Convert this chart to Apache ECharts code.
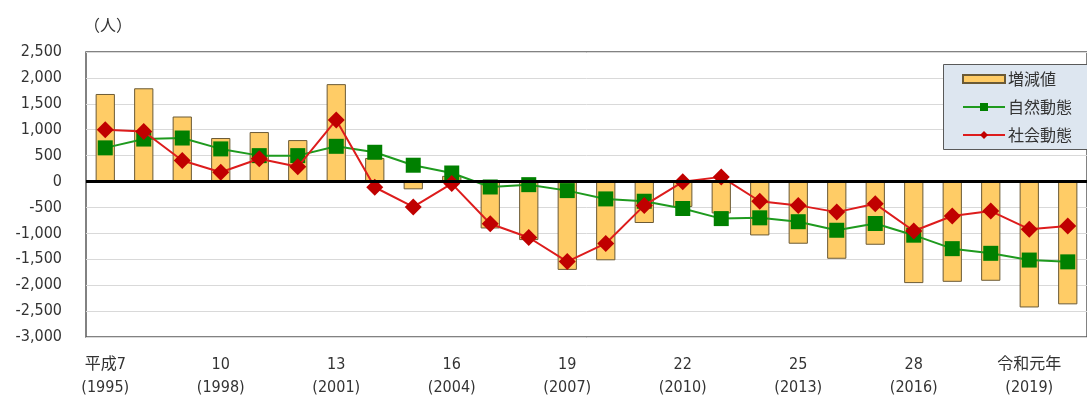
<!DOCTYPE html>
<html><head><meta charset="utf-8">
<script src="https://cdn.jsdelivr.net/npm/echarts@6/dist/echarts.min.js"></script>
<style>html,body{margin:0;padding:0;background:#fff}#c{width:1087px;height:399px}</style>
</head><body><div id="c"></div>
<script>
const eraLabels = ['平成7','8','9','10','11','12','13','14','15','16','17','18','19','20','21','22','23','24','25','26','27','28','29','30','令和元年','2'];
const yearLabels = ['1995','1996','1997','1998','1999','2000','2001','2002','2003','2004','2005','2006','2007','2008','2009','2010','2011','2012','2013','2014','2015','2016','2017','2018','2019','2020'];
const change = [1690,1800,1255,840,955,800,1880,455,-150,110,-905,-1130,-1705,-1520,-800,-490,-615,-1040,-1200,-1490,-1220,-1960,-1935,-1915,-2430,-2370];
const natural = [650,820,840,630,500,500,680,565,315,165,-105,-60,-175,-335,-380,-520,-715,-700,-775,-940,-810,-1035,-1295,-1385,-1515,-1550];
const social = [1000,965,405,180,440,285,1190,-110,-490,-40,-815,-1080,-1545,-1195,-460,-5,90,-380,-460,-590,-430,-955,-665,-570,-920,-860];
const yTicks = {min:-3000, max:2500, interval:500};

const categories = eraLabels.map((e,i)=> e + '\n(' + yearLabels[i] + ')');
const FONT = '"DejaVu Sans Condensed","DejaVu Sans","Noto Sans CJK JP",sans-serif';
const chart = echarts.init(document.getElementById('c'));
chart.setOption({
  animation:false,
  backgroundColor:'#fff',
  title:{text:'（人）', left:79, top:12, textStyle:{fontSize:16, fontWeight:'normal', color:'#333', fontFamily:'"Noto Sans CJK JP",sans-serif'}},
  grid:{left:86, right:-2, top:52, bottom:62, show:true, borderColor:'#595959', borderWidth:1.5, backgroundColor:'transparent'},
  graphic:[{type:'rect', left:943, top:64, z:10, shape:{width:160, height:85},
    style:{fill:'#dde6f0', stroke:'#595959', lineWidth:1}}],
  legend:{
    orient:'vertical', left:943, top:64, z:20,
    itemWidth:42, itemHeight:10, itemGap:12,
    padding:[7,20,6,19],
    textStyle:{fontSize:16, color:'#333', fontFamily:'"Noto Sans CJK JP",sans-serif', padding:[0,0,0,-2]},
    data:[{name:'増減値', icon:'path://M0,0M0,1L42,1L42,9L0,9ZM42,10'},{name:'自然動態'},{name:'社会動態'}]
  },
  xAxis:{
    type:'category', data:categories,
    axisLine:{show:false}, axisTick:{show:false},
    axisLabel:{interval:2, color:'#333', fontSize:16, lineHeight:23, margin:16, fontFamily:FONT}
  },
  yAxis:{
    type:'value', min:yTicks.min, max:yTicks.max, interval:yTicks.interval,
    axisLine:{show:false}, axisTick:{show:false},
    splitLine:{lineStyle:{color:'#d9d9d9', width:1}},
    axisLabel:{color:'#333', fontSize:16, margin:24, fontFamily:FONT,
      formatter:v=>{const s=Math.abs(v).toLocaleString('en-US'); return (v<0?'-':'')+s;}}
  },
  series:[
    {name:'増減値', type:'bar', data:change, barWidth:'50%',
     itemStyle:{color:'#ffcc66', borderColor:'#6b5a36', borderWidth:1},
     markLine:{silent:true, symbol:'none', label:{show:false}, lineStyle:{color:'#000', width:3, type:'solid'}, data:[{yAxis:0}], z:5}},
    {name:'自然動態', type:'line', data:natural, symbol:'rect', symbolSize:15,
     lineStyle:{color:'#1e9a1e', width:2}, itemStyle:{color:'#008000'}, z:3},
    {name:'社会動態', type:'line', data:social, symbol:'diamond', symbolSize:17,
     lineStyle:{color:'#dd1c1c', width:2}, itemStyle:{color:'#c00000'}, z:4}
  ]
});
</script></body></html>
